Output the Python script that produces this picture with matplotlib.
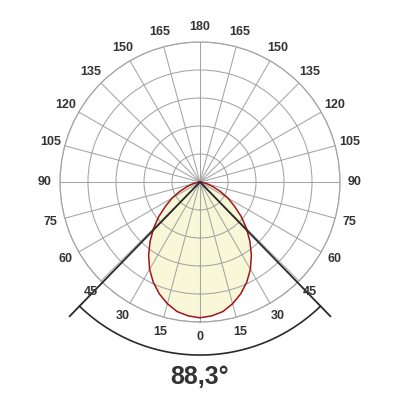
import numpy as np
import matplotlib.pyplot as plt

plt.rcParams['font.family'] = ['Liberation Sans', 'DejaVu Sans']

# Light distribution (relative to outer ring)
angles = [0, 5, 10, 15, 20, 25, 30, 35, 40, 45, 50, 55, 60, 65, 70, 75, 80, 85, 90]
intensity = [0.97, 0.96, 0.94, 0.90, 0.85, 0.79, 0.72, 0.64, 0.555, 0.47, 0.385,
             0.30, 0.23, 0.16, 0.10, 0.057, 0.025, 0.006, 0.0]
beam_angle = 88.3
tick_angles = [0, 15, 30, 45, 60, 75, 90, 105, 120, 135, 150, 165, 180]
ring_levels = [0.2, 0.4, 0.6, 0.8, 1.0]

grid_col = '#a4a4a4'
text_col = '#333333'

# Full symmetric curve
th = np.radians(np.concatenate([-np.array(angles[::-1]), np.array(angles[1:])]))
rr = np.concatenate([np.array(intensity[::-1]), np.array(intensity[1:])])

fig = plt.figure(figsize=(4, 4), dpi=100)
ax = fig.add_axes([0.15, 0.195, 0.7, 0.7], projection='polar')
ax.set_theta_zero_location('S')
ax.set_ylim(0, 1)
ax.set_axisbelow(False)

ax.fill(th, rr, color='#f8f7d8', zorder=1)
ax.plot(th, rr, color='#a3141c', lw=1.1, zorder=3)

# Grid
ax.set_rticks(ring_levels)
ax.set_yticklabels([])
ax.set_xticks(np.radians(np.arange(0, 360, 15)))
ax.set_xticklabels([])
ax.grid(True, color=grid_col, lw=0.75)
ax.spines['polar'].set_color(grid_col)
ax.spines['polar'].set_linewidth(0.9)

# Beam angle lines and arc
half = np.radians(beam_angle / 2)
for s in (-1, 1):
    ax.plot([0, s * half], [0, 1.336], color='#2a2a2a', lw=1.3, clip_on=False, zorder=4)
arc = np.linspace(-half, half, 100)
ax.plot(arc, np.full_like(arc, 1.236), color='#2a2a2a', lw=1.2, clip_on=False, zorder=4)

# Angle labels on both sides
for a in tick_angles:
    sides = [1] if a in (0, 180) else [-1, 1]
    for s in sides:
        ax.text(np.radians(s * a), 1.107, str(a), ha='center', va='center',
                fontsize=9, fontweight='bold', color=text_col, zorder=5)

fig.text(0.5, 0.057, '88,3°', ha='center', va='center', fontsize=18,
         fontweight='bold', color=text_col)

fig.savefig('out.png', dpi=100)
